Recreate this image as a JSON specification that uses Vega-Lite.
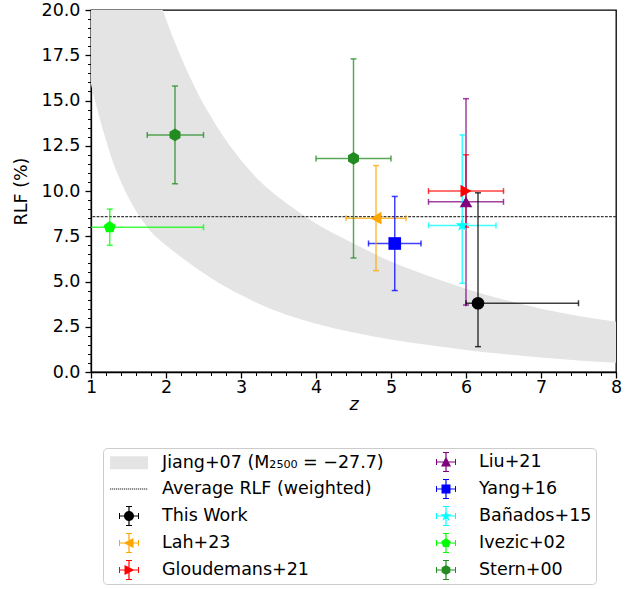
{
  "$schema": "https://vega.github.io/schema/vega-lite/v6.json",
  "width": 525,
  "height": 362,
  "autosize": {"type": "none"},
  "padding": {"left": 91, "top": 10, "right": 28, "bottom": 217},
  "background": "white",
  "config": {
    "font": "DejaVu Sans",
    "view": {"stroke": "black", "strokeWidth": 1.3}
  },
  "datasets": {
    "pts": [
      {"series": "This Work", "z": 6.16, "rlf": 3.8, "zlo": 6.0, "zhi": 7.5, "rlo": 1.4, "rhi": 9.9},
      {"series": "Lah+23", "z": 4.8, "rlf": 8.5, "zlo": 4.4, "zhi": 5.2, "rlo": 5.6, "rhi": 11.4},
      {"series": "Gloudemans+21", "z": 6.0, "rlf": 10.0, "zlo": 5.5, "zhi": 6.5, "rlo": 8.0, "rhi": 12.0},
      {"series": "Liu+21", "z": 6.0, "rlf": 9.4, "zlo": 5.5, "zhi": 6.5, "rlo": 3.7, "rhi": 15.1},
      {"series": "Yang+16", "z": 5.05, "rlf": 7.1, "zlo": 4.7, "zhi": 5.4, "rlo": 4.5, "rhi": 9.7},
      {"series": "Bañados+15", "z": 5.95, "rlf": 8.1, "zlo": 5.5, "zhi": 6.4, "rlo": 4.9, "rhi": 13.1},
      {"series": "Ivezic+02", "z": 1.25, "rlf": 8.0, "zlo": 0.5, "zhi": 2.5, "rlo": 7.0, "rhi": 9.0},
      {"series": "Stern+00", "z": 2.12, "rlf": 13.1, "zlo": 1.75, "zhi": 2.5, "rlo": 10.4, "rhi": 15.8},
      {"series": "Stern+00", "z": 4.5, "rlf": 11.8, "zlo": 4.0, "zhi": 5.0, "rlo": 6.3, "rhi": 17.3}
    ],
    "band": [
      {"z": 1.0, "lo": 15.9, "hi": 40},
      {"z": 1.1, "lo": 14.25, "hi": 36.5},
      {"z": 1.2, "lo": 12.8, "hi": 33.9},
      {"z": 1.3, "lo": 11.5, "hi": 31.3},
      {"z": 1.4, "lo": 10.5, "hi": 29.0},
      {"z": 1.6, "lo": 8.9, "hi": 25.2},
      {"z": 1.8, "lo": 7.75, "hi": 22.1},
      {"z": 2.0, "lo": 7.0, "hi": 19.5},
      {"z": 2.2, "lo": 6.35, "hi": 17.4},
      {"z": 2.4, "lo": 5.75, "hi": 15.6},
      {"z": 2.6, "lo": 5.2, "hi": 14.1},
      {"z": 2.8, "lo": 4.7, "hi": 12.8},
      {"z": 3.0, "lo": 4.25, "hi": 11.7},
      {"z": 3.25, "lo": 3.75, "hi": 10.55},
      {"z": 3.5, "lo": 3.33, "hi": 9.65},
      {"z": 3.75, "lo": 2.97, "hi": 8.9},
      {"z": 4.0, "lo": 2.67, "hi": 8.2},
      {"z": 4.5, "lo": 2.18, "hi": 7.1},
      {"z": 5.0, "lo": 1.8, "hi": 6.1},
      {"z": 5.5, "lo": 1.49, "hi": 5.3},
      {"z": 6.0, "lo": 1.22, "hi": 4.6},
      {"z": 6.5, "lo": 0.99, "hi": 4.0},
      {"z": 7.0, "lo": 0.8, "hi": 3.5},
      {"z": 7.5, "lo": 0.64, "hi": 3.1},
      {"z": 8.0, "lo": 0.51, "hi": 2.78}
    ],
    "avg": [{"avg": 8.58}]
  },
  "resolve": {"scale": {"color": "independent", "shape": "independent"}},
  "layer": [
    {
      "resolve": {"axis": {"x": "independent", "y": "independent"}},
      "layer": [
        {
          "data": {"name": "band"},
          "mark": {"type": "area", "color": "#e4e4e4", "interpolate": "monotone", "clip": true},
          "encoding": {
            "x": {"field": "z", "type": "quantitative", "scale": {"domain": [1, 8], "nice": false, "zero": false},
              "axis": {"values": [1, 2, 3, 4, 5, 6, 7, 8], "format": "d", "orient": "bottom", "tickSize": 6, "tickWidth": 1.3, "tickColor": "black", "domainColor": "black", "domainWidth": 1.3, "labelFontSize": 17.5, "labelFont": "DejaVu Sans", "labelColor": "black", "labelPadding": 0, "labelFlush": false, "labelOverlap": false, "title": "z", "titleFontStyle": "italic", "titleFontWeight": "normal", "titleFontSize": 17.5, "titleFont": "DejaVu Sans", "titleColor": "black", "titlePadding": 0, "grid": false}},
            "y": {"field": "hi", "type": "quantitative", "scale": {"domain": [0, 20], "nice": false, "zero": false},
              "axis": {"values": [0, 2.5, 5, 7.5, 10, 12.5, 15, 17.5, 20], "format": ".1f", "orient": "left", "tickSize": 6, "tickWidth": 1.3, "tickColor": "black", "domainColor": "black", "domainWidth": 1.3, "labelFontSize": 17.5, "labelFont": "DejaVu Sans", "labelColor": "black", "labelPadding": 5, "labelFlush": false, "labelOverlap": false, "title": "RLF (%)", "titleFontWeight": "normal", "titleFontSize": 17.5, "titleFont": "DejaVu Sans", "titleColor": "black", "titlePadding": 11, "grid": false}},
            "y2": {"field": "lo"}
          }
        },
        {
          "data": {"name": "avg"},
          "mark": {"type": "rule", "color": "#3a3a3a", "strokeWidth": 1.2, "strokeDash": [2.8, 1.3]},
          "encoding": {"y": {"field": "avg", "type": "quantitative", "axis": null}}
        },
        {
          "data": {"name": "pts"},
          "mark": {"type": "rule", "strokeWidth": 1.5, "opacity": 0.75, "clip": true},
          "encoding": {
            "x": {"field": "zlo", "type": "quantitative", "axis": null},
            "x2": {"field": "zhi"},
            "y": {"field": "rlf", "type": "quantitative", "axis": null},
            "color": {"field": "series", "type": "nominal", "legend": null,
              "scale": {"domain": ["This Work", "Lah+23", "Gloudemans+21", "Liu+21", "Yang+16", "Bañados+15", "Ivezic+02", "Stern+00"],
                        "range": ["#000000", "#ffa500", "#ff0000", "#800080", "#0000ff", "#00ffff", "#00ff00", "#228b22"]}}
          }
        },
        {
          "data": {"name": "pts"},
          "mark": {"type": "rule", "strokeWidth": 1.5, "opacity": 0.75, "clip": true},
          "encoding": {
            "x": {"field": "z", "type": "quantitative", "axis": null},
            "y": {"field": "rlo", "type": "quantitative", "axis": null},
            "y2": {"field": "rhi"},
            "color": {"field": "series", "type": "nominal", "legend": null}
          }
        },
        {
          "data": {"name": "pts"},
          "mark": {"type": "tick", "orient": "vertical", "size": 6, "thickness": 1.5, "opacity": 0.75, "clip": true},
          "encoding": {
            "x": {"field": "zlo", "type": "quantitative", "axis": null},
            "y": {"field": "rlf", "type": "quantitative", "axis": null},
            "color": {"field": "series", "type": "nominal", "legend": null}
          }
        },
        {
          "data": {"name": "pts"},
          "mark": {"type": "tick", "orient": "vertical", "size": 6, "thickness": 1.5, "opacity": 0.75, "clip": true},
          "encoding": {
            "x": {"field": "zhi", "type": "quantitative", "axis": null},
            "y": {"field": "rlf", "type": "quantitative", "axis": null},
            "color": {"field": "series", "type": "nominal", "legend": null}
          }
        },
        {
          "data": {"name": "pts"},
          "mark": {"type": "tick", "orient": "horizontal", "size": 6, "thickness": 1.5, "opacity": 0.75, "clip": true},
          "encoding": {
            "x": {"field": "z", "type": "quantitative", "axis": null},
            "y": {"field": "rlo", "type": "quantitative", "axis": null},
            "color": {"field": "series", "type": "nominal", "legend": null}
          }
        },
        {
          "data": {"name": "pts"},
          "mark": {"type": "tick", "orient": "horizontal", "size": 6, "thickness": 1.5, "opacity": 0.75, "clip": true},
          "encoding": {
            "x": {"field": "z", "type": "quantitative", "axis": null},
            "y": {"field": "rhi", "type": "quantitative", "axis": null},
            "color": {"field": "series", "type": "nominal", "legend": null}
          }
        },
        {
          "data": {"name": "pts"},
          "mark": {"type": "point", "filled": true, "opacity": 1, "size": 160},
          "encoding": {
            "x": {"field": "z", "type": "quantitative",
              "axis": {"orient": "bottom", "values": [1, 1.2, 1.4, 1.6, 1.8, 2, 2.2, 2.4, 2.6, 2.8, 3, 3.2, 3.4, 3.6, 3.8, 4, 4.2, 4.4, 4.6, 4.8, 5, 5.2, 5.4, 5.6, 5.8, 6, 6.2, 6.4, 6.6, 6.8, 7, 7.2, 7.4, 7.6, 7.8, 8], "labels": false, "domain": false, "ticks": true, "tickSize": 3.5, "tickWidth": 1, "tickColor": "black", "title": null, "grid": false}},
            "y": {"field": "rlf", "type": "quantitative",
              "axis": {"orient": "left", "values": [0, 0.5, 1, 1.5, 2, 2.5, 3, 3.5, 4, 4.5, 5, 5.5, 6, 6.5, 7, 7.5, 8, 8.5, 9, 9.5, 10, 10.5, 11, 11.5, 12, 12.5, 13, 13.5, 14, 14.5, 15, 15.5, 16, 16.5, 17, 17.5, 18, 18.5, 19, 19.5, 20], "labels": false, "domain": false, "ticks": true, "tickSize": 3.5, "tickWidth": 1, "tickColor": "black", "title": null, "grid": false}},
            "color": {"field": "series", "type": "nominal", "legend": null},
            "shape": {"field": "series", "type": "nominal", "legend": null,
              "scale": {"domain": ["This Work", "Lah+23", "Gloudemans+21", "Liu+21", "Yang+16", "Bañados+15", "Ivezic+02", "Stern+00"],
                        "range": ["circle", "triangle-left", "triangle-right", "triangle-up", "square",
                                  "M0,-1.1L0.2469,-0.3398L1.0462,-0.3399L0.3995,0.1298L0.6466,0.8899L0,0.42L-0.6466,0.8899L-0.3995,0.1298L-1.0462,-0.3399L-0.2469,-0.3398Z",
                                  "M0,-1L0.9511,-0.309L0.5878,0.809L-0.5878,0.809L-0.9511,-0.309Z",
                                  "M0,-1L0.866,-0.5L0.866,0.5L0,1L-0.866,0.5L-0.866,-0.5Z"]}}
          }
        }
      ]
    },
    {
      "data": {"name": "pts"},
      "mark": {"type": "point", "filled": true, "opacity": 0},
      "encoding": {
        "color": {"field": "series", "type": "nominal",
          "scale": {"domain": ["Jiang+07 (M₂₅₀₀ = −27.7)", "Average RLF (weighted)", "This Work", "Lah+23", "Gloudemans+21", "Liu+21", "Yang+16", "Bañados+15", "Ivezic+02", "Stern+00"],
                    "range": ["#e4e4e4", "#2a2a2a", "#000000", "#ffa500", "#ff0000", "#800080", "#0000ff", "#00ffff", "#00ff00", "#228b22"]},
          "legend": {"orient": "none", "legendX": 12, "legendY": 438, "columns": 2, "title": null, "symbolSize": 400, "symbolOpacity": 1, "symbolStrokeWidth": 0, "symbolOffset": 12, "labelOffset": 23, "labelFontSize": 17.5, "labelFont": "DejaVu Sans", "labelColor": "black", "labelLimit": 400, "rowPadding": 7, "columnPadding": 40, "padding": 4, "strokeColor": "#cccccc", "cornerRadius": 4, "fillColor": "white"}},
        "shape": {"field": "series", "type": "nominal",
          "scale": {"domain": ["Jiang+07 (M₂₅₀₀ = −27.7)", "Average RLF (weighted)", "This Work", "Lah+23", "Gloudemans+21", "Liu+21", "Yang+16", "Bañados+15", "Ivezic+02", "Stern+00"],
                    "range": [
                      "M-1.9,-0.65H1.9V0.65H-1.9Z",
                      "M-1.9,-0.05h0.13v0.1h-0.13Z M-1.7,-0.05h0.13v0.1h-0.13Z M-1.5,-0.05h0.13v0.1h-0.13Z M-1.3,-0.05h0.13v0.1h-0.13Z M-1.1,-0.05h0.13v0.1h-0.13Z M-0.9,-0.05h0.13v0.1h-0.13Z M-0.7,-0.05h0.13v0.1h-0.13Z M-0.5,-0.05h0.13v0.1h-0.13Z M-0.3,-0.05h0.13v0.1h-0.13Z M-0.1,-0.05h0.13v0.1h-0.13Z M0.1,-0.05h0.13v0.1h-0.13Z M0.3,-0.05h0.13v0.1h-0.13Z M0.5,-0.05h0.13v0.1h-0.13Z M0.7,-0.05h0.13v0.1h-0.13Z M0.9,-0.05h0.13v0.1h-0.13Z M1.1,-0.05h0.13v0.1h-0.13Z M1.3,-0.05h0.13v0.1h-0.13Z M1.5,-0.05h0.13v0.1h-0.13Z M1.7,-0.05h0.13v0.1h-0.13Z",
                      "M-1,-0.06H1V0.06H-1Z M-0.06,-1H0.06V1H-0.06Z M-1,-0.3H-0.9V0.3H-1Z M0.9,-0.3H1V0.3H0.9Z M-0.3,-1H0.3V-0.9H-0.3Z M-0.3,0.9H0.3V1H-0.3Z M0.5,0A0.5,0.5,0,1,1,-0.5,0A0.5,0.5,0,1,1,0.5,0Z",
                      "M-1,-0.06H1V0.06H-1Z M-0.06,-1H0.06V1H-0.06Z M-1,-0.3H-0.9V0.3H-1Z M0.9,-0.3H1V0.3H0.9Z M-0.3,-1H0.3V-0.9H-0.3Z M-0.3,0.9H0.3V1H-0.3Z M-0.55,0L0.45,-0.5L0.45,0.5Z",
                      "M-1,-0.06H1V0.06H-1Z M-0.06,-1H0.06V1H-0.06Z M-1,-0.3H-0.9V0.3H-1Z M0.9,-0.3H1V0.3H0.9Z M-0.3,-1H0.3V-0.9H-0.3Z M-0.3,0.9H0.3V1H-0.3Z M0.55,0L-0.45,0.5L-0.45,-0.5Z",
                      "M-1,-0.06H1V0.06H-1Z M-0.06,-1H0.06V1H-0.06Z M-1,-0.3H-0.9V0.3H-1Z M0.9,-0.3H1V0.3H0.9Z M-0.3,-1H0.3V-0.9H-0.3Z M-0.3,0.9H0.3V1H-0.3Z M0,-0.55L0.5,0.45L-0.5,0.45Z",
                      "M-1,-0.06H1V0.06H-1Z M-0.06,-1H0.06V1H-0.06Z M-1,-0.3H-0.9V0.3H-1Z M0.9,-0.3H1V0.3H0.9Z M-0.3,-1H0.3V-0.9H-0.3Z M-0.3,0.9H0.3V1H-0.3Z M-0.45,-0.45H0.45V0.45H-0.45Z",
                      "M-1,-0.06H1V0.06H-1Z M-0.06,-1H0.06V1H-0.06Z M-1,-0.3H-0.9V0.3H-1Z M0.9,-0.3H1V0.3H0.9Z M-0.3,-1H0.3V-0.9H-0.3Z M-0.3,0.9H0.3V1H-0.3Z M0,-0.6L0.1347,-0.1854L0.5707,-0.1854L0.2179,0.0708L0.3527,0.4854L0,0.229L-0.3527,0.4854L-0.2179,0.0708L-0.5707,-0.1854L-0.1347,-0.1854Z",
                      "M-1,-0.06H1V0.06H-1Z M-0.06,-1H0.06V1H-0.06Z M-1,-0.3H-0.9V0.3H-1Z M0.9,-0.3H1V0.3H0.9Z M-0.3,-1H0.3V-0.9H-0.3Z M-0.3,0.9H0.3V1H-0.3Z M0,-0.5L0.4756,-0.1545L0.2939,0.4045L-0.2939,0.4045L-0.4756,-0.1545Z",
                      "M-1,-0.06H1V0.06H-1Z M-0.06,-1H0.06V1H-0.06Z M-1,-0.3H-0.9V0.3H-1Z M0.9,-0.3H1V0.3H0.9Z M-0.3,-1H0.3V-0.9H-0.3Z M-0.3,0.9H0.3V1H-0.3Z M0,-0.5L0.433,-0.25L0.433,0.25L0,0.5L-0.433,0.25L-0.433,-0.25Z"
                    ]},
          "legend": {"orient": "none", "legendX": 12, "legendY": 438, "columns": 2, "title": null, "symbolSize": 400, "symbolOpacity": 1, "symbolStrokeWidth": 0, "symbolOffset": 12, "labelOffset": 23, "labelFontSize": 17.5, "labelFont": "DejaVu Sans", "labelColor": "black", "labelLimit": 400, "rowPadding": 7, "columnPadding": 40, "padding": 4, "strokeColor": "#cccccc", "cornerRadius": 4, "fillColor": "white"}}
      }
    }
  ]
}
